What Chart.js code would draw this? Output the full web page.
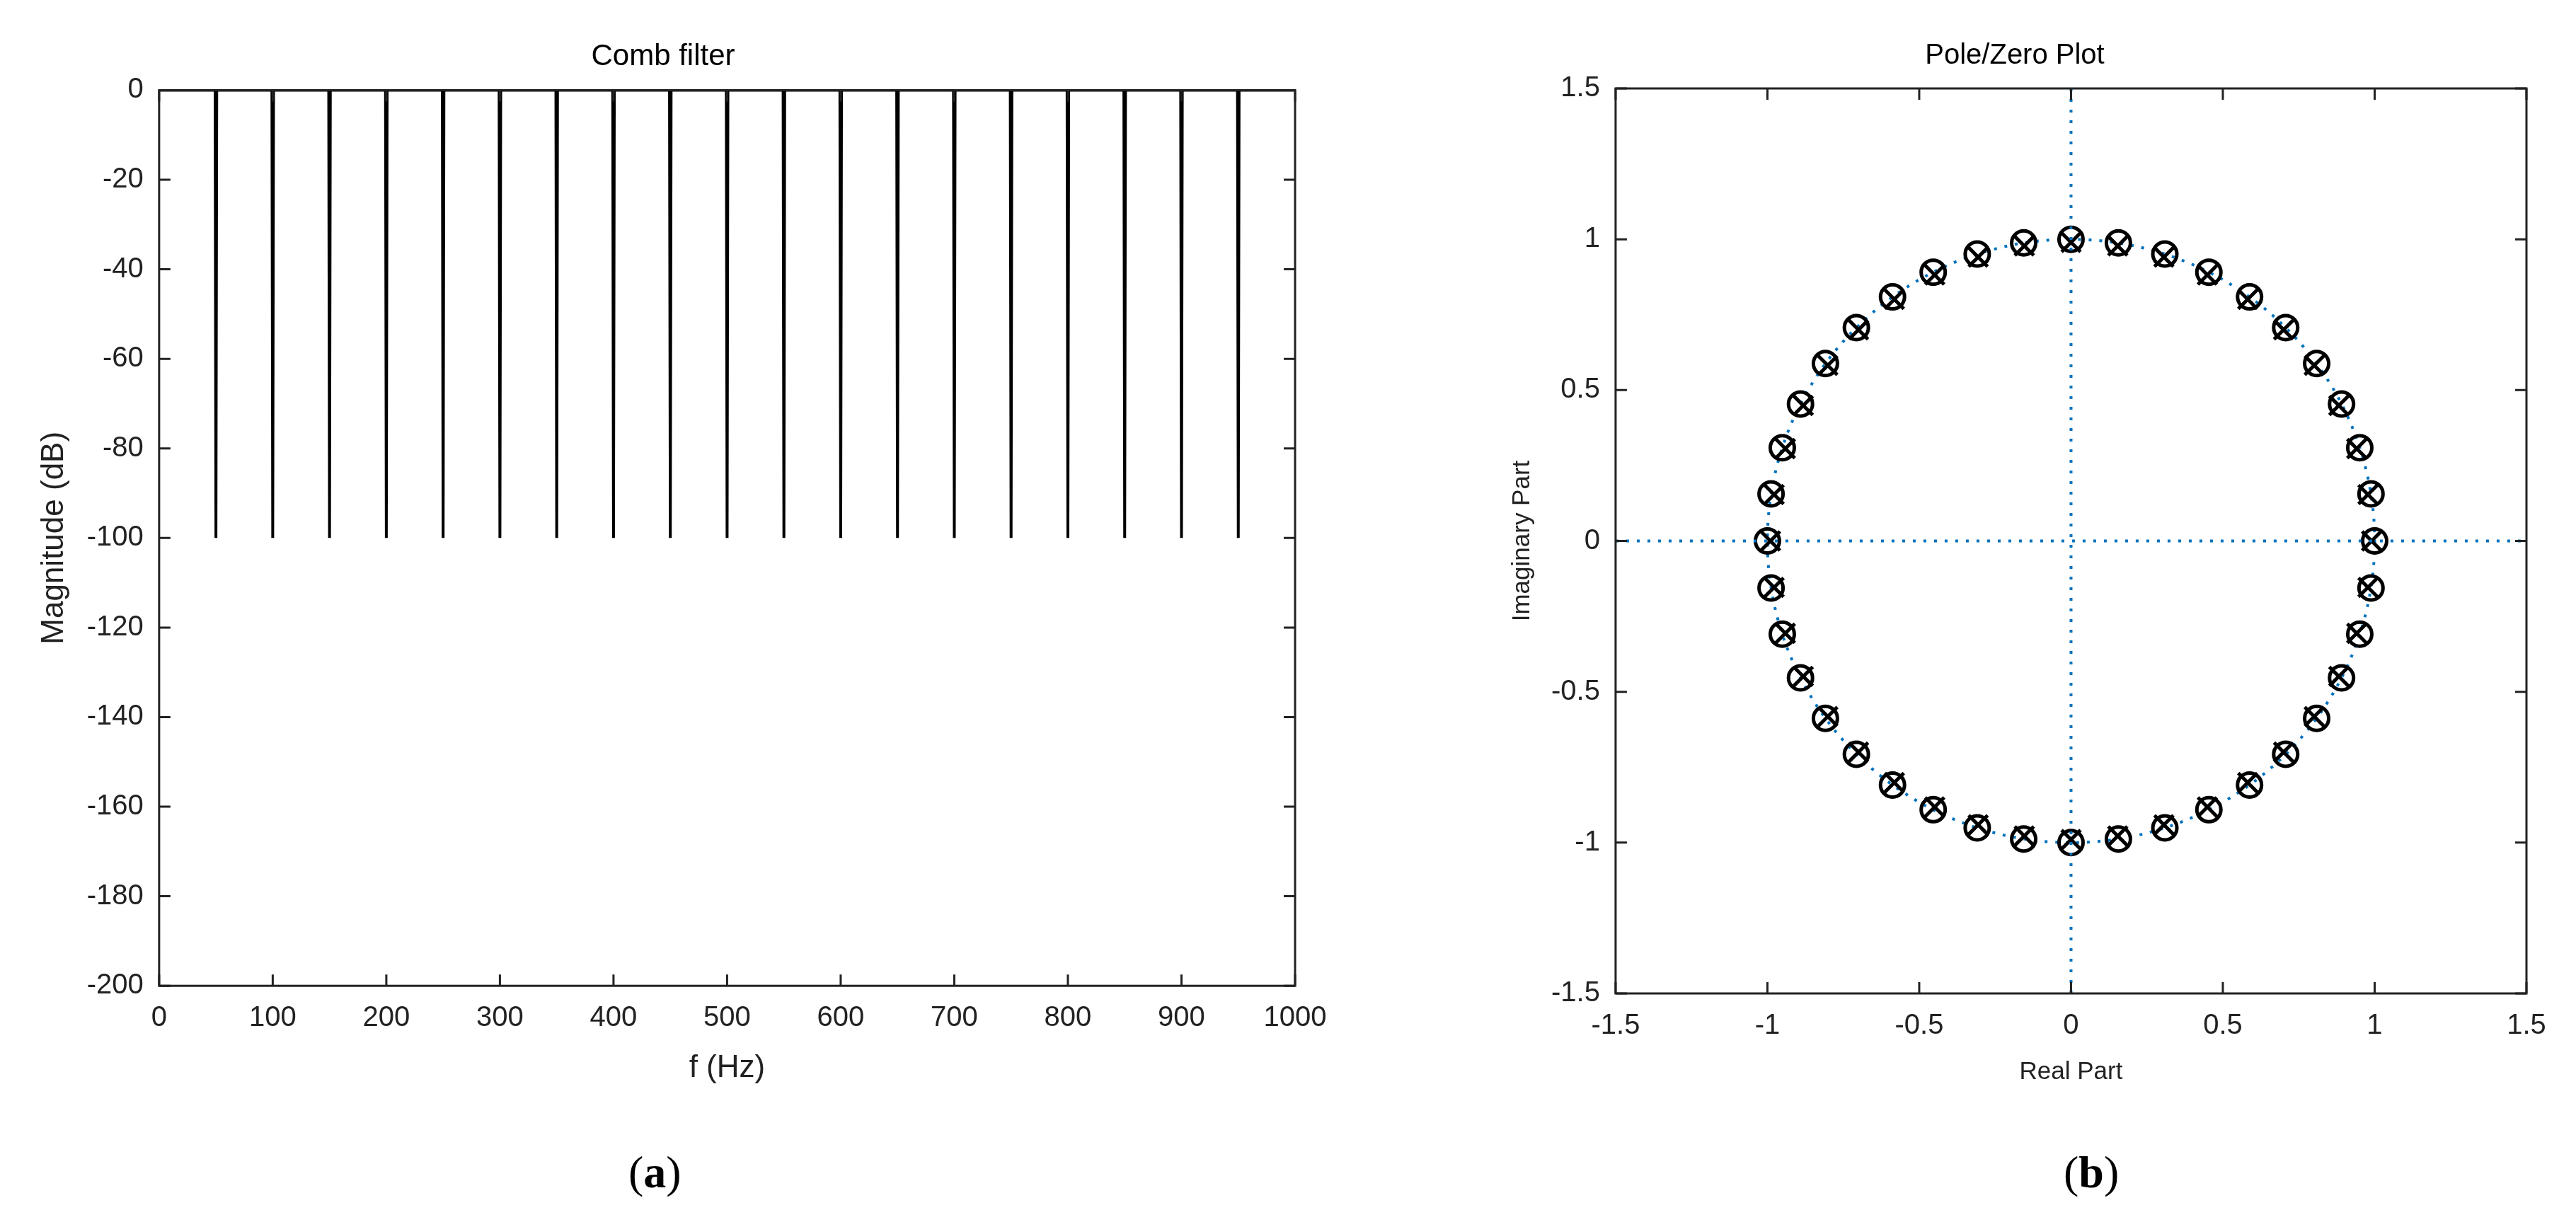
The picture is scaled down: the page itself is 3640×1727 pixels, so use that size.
<!DOCTYPE html>
<html><head><meta charset="utf-8">
<script src="https://cdn.jsdelivr.net/npm/chart.js@4"></script>
<style>
body{margin:0;background:#fff;width:3640px;height:1727px;position:relative;overflow:hidden}
.box{position:absolute}
.lab{position:absolute;font-family:"Liberation Serif";font-size:64px;top:1620px}
</style></head><body>
<div class="box" style="left:0;top:55px;width:1900px;height:1487px"><canvas id="c1"></canvas></div>
<div class="box" style="left:2080px;top:55px;width:1560px;height:1487px"><canvas id="c2"></canvas></div>
<div class="lab" style="left:888px">(<b>a</b>)</div>
<div class="lab" style="left:2916px">(<b>b</b>)</div>
<script>
// Comb filter data
const notchFreqs = [50,100,150,200,250,300,350,400,450,500,550,600,650,700,750,800,850,900,950];
const notchDepth = [-100,-100,-100,-100,-100,-100,-100,-100,-100,-100,-100,-100,-100,-100,-100,-100,-100,-100,-100];
const passLevel = 0;
const freqTicks = [0,100,200,300,400,500,600,700,800,900,1000];
const magTicks = [0,-20,-40,-60,-80,-100,-120,-140,-160,-180,-200];
// Pole/zero data
const zerosRe = [1,0.988,0.951,0.891,0.809,0.707,0.588,0.454,0.309,0.156,0,-0.156,-0.309,-0.454,-0.588,-0.707,-0.809,-0.891,-0.951,-0.988,-1,-0.988,-0.951,-0.891,-0.809,-0.707,-0.588,-0.454,-0.309,-0.156,0,0.156,0.309,0.454,0.588,0.707,0.809,0.891,0.951,0.988];
const zerosIm = [0,0.156,0.309,0.454,0.588,0.707,0.809,0.891,0.951,0.988,1,0.988,0.951,0.891,0.809,0.707,0.588,0.454,0.309,0.156,0,-0.156,-0.309,-0.454,-0.588,-0.707,-0.809,-0.891,-0.951,-0.988,-1,-0.988,-0.951,-0.891,-0.809,-0.707,-0.588,-0.454,-0.309,-0.156];
const polesRe = [0.99,0.978,0.941,0.882,0.801,0.700,0.582,0.449,0.306,0.154,0,-0.154,-0.306,-0.449,-0.582,-0.700,-0.801,-0.882,-0.941,-0.978,-0.99,-0.978,-0.941,-0.882,-0.801,-0.700,-0.582,-0.449,-0.306,-0.154,0,0.154,0.306,0.449,0.582,0.700,0.801,0.882,0.941,0.978];
const polesIm = [0,0.154,0.306,0.449,0.582,0.700,0.801,0.882,0.941,0.978,0.99,0.978,0.941,0.882,0.801,0.700,0.582,0.449,0.306,0.154,0,-0.154,-0.306,-0.449,-0.582,-0.700,-0.801,-0.882,-0.941,-0.978,-0.99,-0.978,-0.941,-0.882,-0.801,-0.700,-0.582,-0.449,-0.306,-0.154];
const pzTicks = [-1.5,-1,-0.5,0,0.5,1,1.5];

const FONT = "Liberation Sans";
const notchHalfWidth = 0.7;
const combData = [{x:0,y:passLevel}];
notchFreqs.forEach((f,i)=>{combData.push({x:f-notchHalfWidth,y:passLevel},{x:f,y:notchDepth[i]},{x:f+notchHalfWidth,y:passLevel});});
combData.push({x:1000,y:passLevel});

const frame = {id:'frame',afterDatasetsDraw(ch){
  const a=ch.chartArea, c=ch.ctx; c.save();
  c.strokeStyle='#222'; c.lineWidth=3; c.strokeRect(a.left,a.top,a.right-a.left,a.bottom-a.top);
  const xs=ch.scales.x, ys=ch.scales.y, L=16;
  c.beginPath();
  xs.ticks.forEach(t=>{const p=xs.getPixelForValue(t.value);c.moveTo(p,a.bottom);c.lineTo(p,a.bottom-L);c.moveTo(p,a.top);c.lineTo(p,a.top+L);});
  ys.ticks.forEach(t=>{const p=ys.getPixelForValue(t.value);c.moveTo(a.left,p);c.lineTo(a.left+L,p);c.moveTo(a.right,p);c.lineTo(a.right-L,p);});
  c.stroke(); c.restore();
}};
const unitCircle = {id:'uc',beforeDatasetsDraw(ch){
  const c=ch.ctx,xs=ch.scales.x,ys=ch.scales.y; c.save();
  c.strokeStyle='#0072BD'; c.lineWidth=4; c.setLineDash([4,11]);
  const cx=xs.getPixelForValue(0), cy=ys.getPixelForValue(0);
  const rx=xs.getPixelForValue(1)-cx, ry=cy-ys.getPixelForValue(1);
  c.beginPath(); c.ellipse(cx,cy,rx,ry,0,0,Math.PI*2); c.stroke(); c.restore();
}};
function axis(title,ticks,min,max,fs){
  return {type:'linear',min,max,afterBuildTicks(s){s.ticks=ticks.map(v=>({value:v}));},
    grid:{display:false},border:{display:false},
    ticks:{color:'#222',font:{family:FONT,size:40},padding:14,maxRotation:0,autoSkip:false,callback:v=>String(v)},
    title:{display:true,text:title,color:'#222',font:{family:FONT,size:fs},padding:6}};
}
new Chart(document.getElementById('c1'),{type:'scatter',
  data:{datasets:[{data:combData,showLine:true,borderColor:'#000',borderWidth:4,pointRadius:0}]},
  options:{responsive:true,maintainAspectRatio:false,animation:false,
    layout:{padding:{left:44,right:70,top:0,bottom:0}},
    plugins:{legend:{display:false},tooltip:{enabled:false},
      title:{display:true,text:'Comb filter',color:'#000',font:{family:FONT,size:42,weight:'normal'},padding:{top:0,bottom:22}}},
    scales:{x:axis('f (Hz)',freqTicks,0,1000,44),y:axis('Magnitude (dB)',magTicks,-200,0,44)}},
  plugins:[frame]});
const axLine={borderColor:'#0072BD',borderWidth:4,borderDash:[4,11],showLine:true,pointRadius:0};
new Chart(document.getElementById('c2'),{type:'scatter',
  data:{datasets:[
    Object.assign({data:[{x:-1.5,y:0},{x:1.5,y:0}]},axLine),
    Object.assign({data:[{x:0,y:-1.5},{x:0,y:1.5}]},axLine),
    {data:zerosRe.map((v,i)=>({x:v,y:zerosIm[i]})),pointStyle:'circle',pointRadius:17,borderColor:'#000',borderWidth:5,backgroundColor:'transparent'},
    {data:polesRe.map((v,i)=>({x:v,y:polesIm[i]})),pointStyle:'crossRot',pointRadius:19,borderColor:'#000',borderWidth:5}
  ]},
  options:{responsive:true,maintainAspectRatio:false,animation:false,
    layout:{padding:{left:44,right:70,top:0,bottom:0}},
    plugins:{legend:{display:false},tooltip:{enabled:false},
      title:{display:true,text:'Pole/Zero Plot',color:'#000',font:{family:FONT,size:40,weight:'normal'},padding:{top:0,bottom:22}}},
    scales:{x:axis('Real Part',pzTicks,-1.5,1.5,35),y:axis('Imaginary Part',pzTicks,-1.5,1.5,35)}},
  plugins:[frame,unitCircle]});
</script></body></html>
